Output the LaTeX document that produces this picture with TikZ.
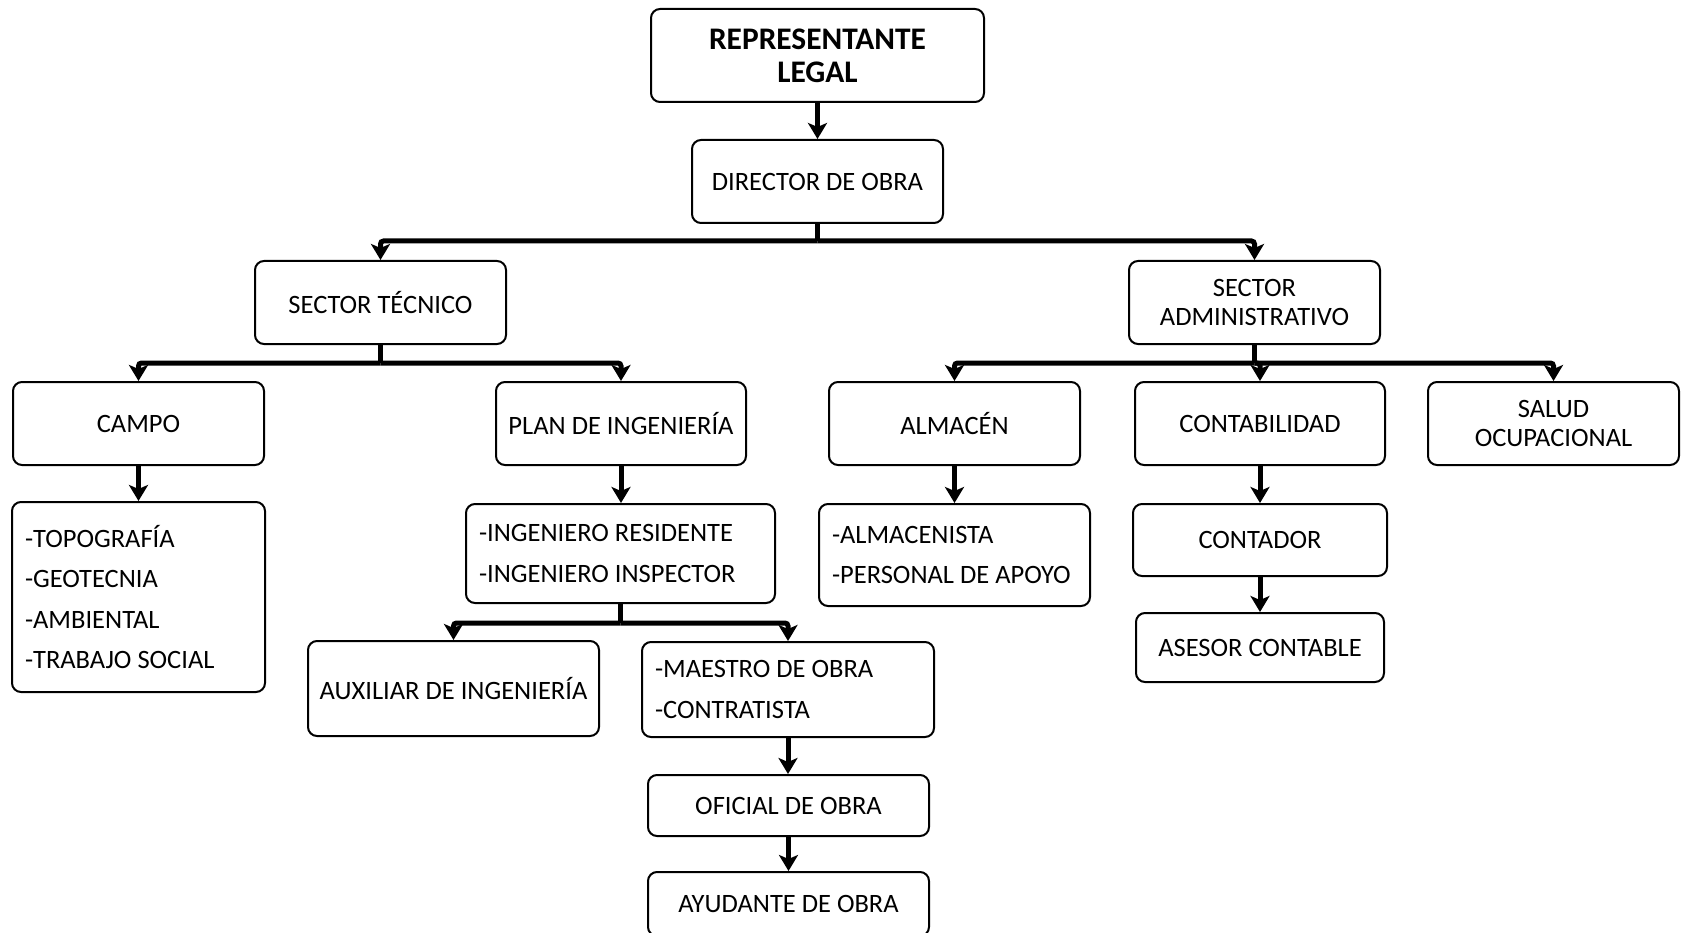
\documentclass[tikz,border=0pt]{standalone}
\usepackage{fontspec}
\setmainfont{Carlito}
\usetikzlibrary{arrows.meta}

\tikzset{
  box/.style={draw, line width=2pt, rounded corners=9pt, align=center, inner sep=0pt,
    font=\fontsize{26.5}{29.5}\selectfont},
  listbox/.style={box, align=flush left, inner xsep=13pt, font=\fontsize{26.5}{40.5}\selectfont},
  stem/.style={line width=5pt},
  link/.style={line width=5pt, -{Stealth[length=16pt,width=19pt,inset=4pt]}},
  branch/.style={link, rounded corners=3pt},
}

\begin{document}
\begin{tikzpicture}[x=1pt, y=-1pt]
  \useasboundingbox (0,0) rectangle (1684,933);

  % top levels
  \node[box, minimum width=333pt, minimum height=93pt, font=\fontsize{31.4}{33}\selectfont\bfseries] (rep) at (817.5,55.5) {REPRESENTANTE\\LEGAL};
  \node[box, minimum width=251pt, minimum height=83pt] (dir) at (817.5,181.5) {DIRECTOR DE OBRA};
  \node[box, minimum width=251pt, minimum height=83pt] (st) at (380.5,302.5) {SECTOR TÉCNICO};
  \node[box, minimum width=251pt, minimum height=83pt] (sa) at (1254.5,302.5) {SECTOR\\ADMINISTRATIVO};

  % areas
  \node[box, minimum width=251pt, minimum height=83pt] (campo) at (138.5,423.5) {CAMPO};
  \node[box, minimum width=250pt, minimum height=83pt] (plan) at (621,423.5) {PLAN DE INGENIERÍA};
  \node[box, minimum width=251pt, minimum height=83pt] (alm) at (954.5,423.5) {ALMACÉN};
  \node[box, minimum width=250pt, minimum height=83pt] (cont) at (1260,423.5) {CONTABILIDAD};
  \node[box, minimum width=251pt, minimum height=83pt] (salud) at (1553.5,423.5) {SALUD\\OCUPACIONAL};

  % staff
  \node[listbox, text width=227pt, minimum height=190pt] (campol) at (138.5,597) {-TOPOGRAFÍA\\-GEOTECNIA\\-AMBIENTAL\\-TRABAJO SOCIAL};
  \node[listbox, text width=283pt, minimum height=99pt] (ing) at (620.5,553.5) {-INGENIERO RESIDENTE\\-INGENIERO INSPECTOR};
  \node[listbox, text width=245pt, minimum height=102pt] (alml) at (954.5,555) {-ALMACENISTA\\-PERSONAL DE APOYO};
  \node[box, minimum width=254pt, minimum height=72pt] (contador) at (1260,540) {CONTADOR};
  \node[box, minimum width=248pt, minimum height=69pt] (asesor) at (1260,647.5) {ASESOR CONTABLE};
  \node[box, minimum width=291pt, minimum height=95pt] (aux) at (453.5,688.5) {AUXILIAR DE INGENIERÍA};
  \node[listbox, text width=266pt, minimum height=95pt] (maestro) at (788,689.5) {-MAESTRO DE OBRA\\-CONTRATISTA};
  \node[box, minimum width=281pt, minimum height=61pt] (oficial) at (788.5,805.5) {OFICIAL DE OBRA};
  \node[box, minimum width=281pt, minimum height=64pt] (ayud) at (788.5,904) {AYUDANTE DE OBRA};

  % bar levels
  \coordinate (b1) at (817.5,241);
  \coordinate (b2) at (380.5,363);
  \coordinate (b3) at (1254.5,363);
  \coordinate (b4) at (620.5,623);

  % connectors
  \draw[link] (rep) -- (dir);
  \draw[stem] (dir) -- (b1);
  \draw[branch] (b1) -| (st);
  \draw[branch] (b1) -| (sa);

  \draw[stem] (st) -- (b2);
  \draw[branch] (b2) -| (campo);
  \draw[branch] (b2) -| (plan);

  \draw[stem] (sa) -- (b3);
  \draw[branch] (b3) -| (alm);
  \draw[branch] (b3) -| (cont);
  \draw[branch] (b3) -| (salud);

  \draw[link] (campo) -- (campol);
  \draw[link] (plan) -- (plan |- ing.north);
  \draw[link] (alm) -- (alml);
  \draw[link] (cont) -- (contador);
  \draw[link] (contador) -- (asesor);

  \draw[stem] (ing) -- (b4);
  \draw[branch] (b4) -| (aux);
  \draw[branch] (b4) -| (maestro);
  \draw[link] (maestro) -- (maestro |- oficial.north);
  \draw[link] (oficial) -- (ayud);
\end{tikzpicture}
\end{document}
